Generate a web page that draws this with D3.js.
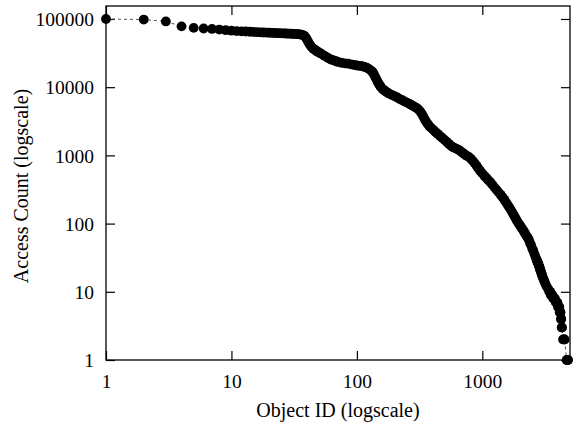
<!DOCTYPE html>
<html>
<head>
<meta charset="utf-8">
<script src="https://cdn.jsdelivr.net/npm/d3@7"></script>
<style>
  html, body { margin: 0; padding: 0; background: #ffffff; }
  svg { display: block; }
  text { font-family: "Liberation Serif", "Times New Roman", "DejaVu Serif", serif; fill: #000; }
</style>
</head>
<body>
<svg id="chart" width="584" height="426"></svg>
<script>
// ---- data ----
const xTicks = [1, 10, 100, 1000];
const yTicks = [1, 10, 100, 1000, 10000, 100000];
const xLabel = "Object ID (logscale)";
const yLabel = "Access Count (logscale)";

const ranks = [
  1, 2, 3, 4, 5, 6, 7, 8, 9, 10,
  11, 12, 13, 14, 15, 16, 17, 18, 19, 20,
  21, 22, 23, 24, 25, 26, 27, 28, 29, 30,
  31, 32, 33, 34, 35, 36, 37, 38, 39, 40,
  41, 42, 43, 44, 45, 46, 47, 48, 49, 50,
  52, 55, 58, 60, 63, 65, 68, 70, 75, 80,
  85, 90, 95, 100, 105, 110, 115, 120, 125, 130,
  133, 135, 138, 141, 144, 147, 150, 153, 155, 160,
  165, 170, 175, 180, 190, 200, 210, 220, 230, 240,
  250, 260, 270, 280, 290, 300, 310, 320, 330, 340,
  350, 360, 370, 380, 395, 410, 425, 440, 460, 480,
  500, 520, 540, 560, 580, 600, 625, 650, 675, 700,
  725, 750, 780, 810, 840, 870, 900, 930, 960, 1000,
  1040, 1080, 1120, 1160, 1200, 1250, 1300, 1350, 1400, 1450,
  1500, 1550, 1600, 1650, 1700, 1750, 1800, 1850, 1900, 1950,
  2000, 2050, 2100, 2150, 2200, 2250, 2300, 2350, 2400, 2450,
  2500, 2550, 2600, 2650, 2700, 2720, 2740, 2765, 2785, 2810,
  2830, 2855, 2875, 2895, 2920, 2950, 2980, 3010, 3045, 3085,
  3135, 3190, 3255, 3350, 3420, 3480, 3520, 3570, 3620, 3670,
  3730, 3790, 3850, 3910, 3970, 4010, 4060, 4110, 4140, 4170,
  4200, 4230, 4260, 4290, 4320, 4400, 4490, 4530, 4700, 4760,
  4830
];
const counts = [
  100000, 98000, 92000, 78000, 74000, 72500, 71500, 70000, 68500, 67300,
  66500, 66000, 65500, 65000, 64500, 64000, 63700, 63400, 63100, 62800,
  62500, 62300, 62100, 61900, 61700, 61500, 61300, 61100, 60900, 60700,
  60500, 60300, 60100, 59800, 59400, 58800, 58000, 57000, 54000, 50000,
  46000, 42500, 40000, 38000, 36500, 35500, 34600, 33700, 32800, 32200,
  31000, 28900, 27300, 26300, 25300, 24800, 24000, 23600, 22800, 22400,
  22100, 21600, 21200, 20800, 20600, 20300, 19800, 19300, 18400, 17500,
  16700, 16100, 15000, 13800, 12800, 11800, 11100, 10500, 10100, 9400,
  9000, 8640, 8350, 8100, 7700, 7360, 7060, 6700, 6440, 6180,
  5950, 5760, 5540, 5320, 5110, 4940, 4700, 4390, 4040, 3650,
  3300, 3040, 2840, 2660, 2490, 2330, 2190, 2070, 1930, 1800,
  1690, 1580, 1480, 1390, 1330, 1290, 1245, 1200, 1140, 1085,
  1030, 990, 950, 895, 830, 765, 705, 645, 596, 545,
  500, 465, 430, 404, 373, 340, 312, 287, 264, 243,
  223, 203, 186, 170, 155, 142, 129, 118, 108, 100,
  94, 87, 82, 76, 71, 66, 62, 58, 52, 48,
  43, 40, 36, 33, 30, 29, 28, 27, 26, 25,
  24, 23, 22, 21, 20, 19, 18, 17, 16, 15,
  14, 13, 12, 11, 10, 10, 9, 9, 9, 8,
  8, 8, 7, 7, 7, 6, 6, 6, 5, 5,
  5, 4, 4, 3, 3, 2, 2, 2, 1, 1,
  1
];

// ---- layout ----
const W = 584, H = 426;
const pL = 106, pR = 570, pT = 6, pB = 360;
const tickLen = 9;

const svg = d3.select("#chart");
svg.append("rect").attr("width", W).attr("height", H).attr("fill", "#fff");

const x = d3.scaleLog().domain([1, 5000]).range([pL, pR]);
const y = d3.scaleLog().domain([1, 155000]).range([pB, pT]);

const data = ranks.map((r, i) => ({ r: r, c: counts[i] }));

// axes (inward ticks, mirrored)
const fmt = d3.format("d");
const gx = svg.append("g").attr("transform", `translate(0,${pB})`)
  .call(d3.axisBottom(x).tickValues(xTicks).tickFormat(fmt).tickSizeInner(-tickLen).tickSizeOuter(0).tickPadding(14));
const gy = svg.append("g").attr("transform", `translate(${pL},0)`)
  .call(d3.axisLeft(y).tickValues(yTicks).tickFormat(fmt).tickSizeInner(-tickLen).tickSizeOuter(0).tickPadding(12));
const gt = svg.append("g").attr("transform", `translate(0,${pT})`)
  .call(d3.axisTop(x).tickValues(xTicks).tickFormat("").tickSizeInner(-tickLen).tickSizeOuter(0));
const gr = svg.append("g").attr("transform", `translate(${pR},0)`)
  .call(d3.axisRight(y).tickValues(yTicks).tickFormat("").tickSizeInner(-tickLen).tickSizeOuter(0));

[gx, gy, gt, gr].forEach(g => {
  g.select(".domain").remove();
  g.selectAll(".tick line").attr("stroke", "#000").attr("stroke-width", 1.2);
  g.selectAll(".tick text").attr("font-size", 19.5)
    .attr("font-family", '"Liberation Serif", "Times New Roman", serif').attr("fill", "#000");
});
gx.selectAll(".tick text").attr("y", 14).attr("dy", "0.71em");
gy.selectAll(".tick text").attr("dy", "0.34em");

// frame
svg.append("rect")
  .attr("x", pL).attr("y", pT)
  .attr("width", pR - pL).attr("height", pB - pT)
  .attr("fill", "none").attr("stroke", "#000").attr("stroke-width", 1.3);

// dashed connecting line
const line = d3.line().x(d => x(d.r)).y(d => y(d.c));
svg.append("path").datum(data)
  .attr("d", line)
  .attr("fill", "none")
  .attr("stroke", "#555")
  .attr("stroke-width", 1)
  .attr("stroke-dasharray", "3,3");

// points
svg.append("g").selectAll("circle").data(data).join("circle")
  .attr("cx", d => x(d.r))
  .attr("cy", d => y(d.c))
  .attr("r", 4.9)
  .attr("fill", "#000");

// axis titles
svg.append("text")
  .attr("x", (pL + pR) / 2).attr("y", 417)
  .attr("text-anchor", "middle").attr("font-size", 20)
  .text(xLabel);
svg.append("text")
  .attr("transform", `translate(28,${(pT + pB) / 2 + 3}) rotate(-90)`)
  .attr("text-anchor", "middle").attr("font-size", 20)
  .text(yLabel);
</script>
</body>
</html>
